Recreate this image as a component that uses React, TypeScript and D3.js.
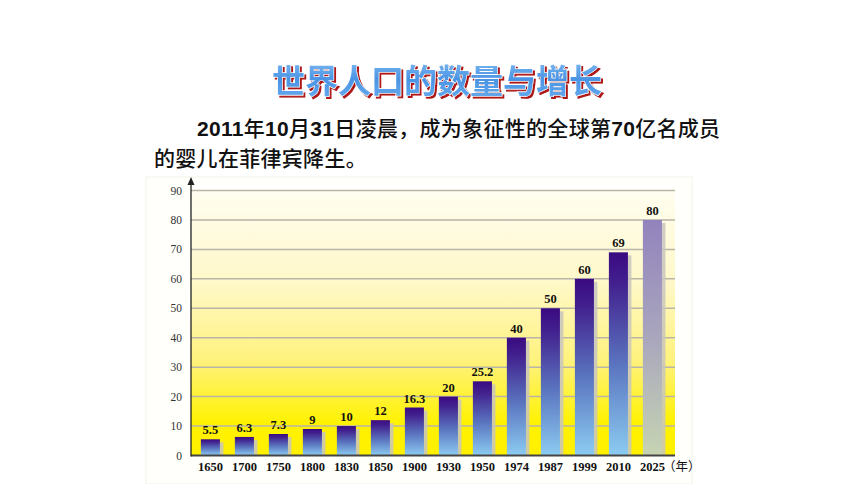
import React from "react";
import * as d3 from "d3";

const years = ["1650", "1700", "1750", "1800", "1830", "1850", "1900", "1930", "1950", "1974", "1987", "1999", "2010", "2025"];
const populations = [5.5, 6.3, 7.3, 9, 10, 12, 16.3, 20, 25.2, 40, 50, 60, 69, 80];
const valueLabels = ["5.5", "6.3", "7.3", "9", "10", "12", "16.3", "20", "25.2", "40", "50", "60", "69", "80"];
const yTicks = [0, 10, 20, 30, 40, 50, 60, 70, 80, 90];
const titleText = "世界人口的数量与增长";
const line1Parts: { t: string; num: boolean }[] = [
  { t: "2011", num: true },
  { t: "年", num: false },
  { t: "10", num: true },
  { t: "月", num: false },
  { t: "31", num: true },
  { t: "日凌晨，成为象征性的全球第", num: false },
  { t: "70", num: true },
  { t: "亿名成员", num: false },
];
const line2 = "的婴儿在菲律宾降生。";
const yearUnit = "（年）";

const W = 860;
const H = 484;
const plotLeft = 191;
const plotRight = 675;
const plotTop = 190.5;
const plotBottom = 455.5;

export default function App() {
  const y = d3.scaleLinear().domain([0, 90]).range([plotBottom, plotTop]);
  const x = d3
    .scaleBand<string>()
    .domain(years)
    .range([193.4, 669.4])
    .paddingInner(0.44)
    .paddingOuter(0.22);
  const bw = x.bandwidth();
  const serif = "'Liberation Serif', 'Times New Roman', 'Noto Sans CJK SC', serif";
  const sans = "'Liberation Sans', Arial, 'Noto Sans CJK SC', sans-serif";
  const cjk = "'Noto Sans CJK SC', sans-serif";

  return (
    <svg width={W} height={H} style={{ position: "absolute", left: 0, top: 0, background: "#fff" }}>
      <defs>
        <linearGradient id="bgGrad" x1="0" y1="0" x2="0" y2="1">
          <stop offset="0" stopColor="#fffdf0" />
          <stop offset="0.35" stopColor="#fff8c8" />
          <stop offset="0.65" stopColor="#fff27a" />
          <stop offset="0.88" stopColor="#fff200" />
          <stop offset="1" stopColor="#fff000" />
        </linearGradient>
        <linearGradient id="barGrad" x1="0" y1="0" x2="0" y2="1">
          <stop offset="0" stopColor="#3a0a82" />
          <stop offset="0.15" stopColor="#42208e" />
          <stop offset="0.55" stopColor="#5a74bf" />
          <stop offset="1" stopColor="#8cccf2" />
        </linearGradient>
        <linearGradient id="futGrad" x1="0" y1="0" x2="0" y2="1">
          <stop offset="0" stopColor="#9383bd" />
          <stop offset="0.5" stopColor="#a9a6bd" />
          <stop offset="1" stopColor="#c6d4b2" />
        </linearGradient>
        <linearGradient id="titleGrad" x1="0" y1="0" x2="0" y2="1">
          <stop offset="0" stopColor="#8cc4f4" />
          <stop offset="0.5" stopColor="#4a94e4" />
          <stop offset="1" stopColor="#6aaef0" />
        </linearGradient>
        <filter id="titleShadow" x="-5%" y="-20%" width="110%" height="140%">
          <feOffset in="SourceAlpha" dx="1.8" dy="1.8" result="off" />
          <feFlood floodColor="#b01818" />
          <feComposite in2="off" operator="in" result="shadow" />
          <feMerge>
            <feMergeNode in="shadow" />
            <feMergeNode in="SourceGraphic" />
          </feMerge>
        </filter>
      </defs>

      {/* Title */}
      <text
        x={437}
        y={93}
        textAnchor="middle"
        fontFamily={cjk}
        fontWeight="bold"
        fontSize={33}
        fill="url(#titleGrad)"
        stroke="#ffffff"
        strokeWidth={1.2}
        paintOrder="stroke"
        filter="url(#titleShadow)"
      >
        {titleText}
      </text>

      {/* Paragraph */}
      <text x={197} y={136} fontSize={21} fill="#111" letterSpacing={0.3}>
        {line1Parts.map((p, i) => (
          <tspan key={i} fontFamily={p.num ? sans : cjk} fontWeight={p.num ? "bold" : "500"}>
            {p.t}
          </tspan>
        ))}
      </text>
      <text x={154} y={166} fontSize={21} fill="#111" fontFamily={cjk} fontWeight="500" letterSpacing={0.3}>
        {line2}
      </text>

      {/* Panel */}
      <rect x={146} y={177} width={546} height={307} fill="#fffffb" stroke="#f3f3ea" strokeWidth={1} />

      {/* Plot background */}
      <rect x={plotLeft} y={plotTop} width={plotRight - plotLeft} height={plotBottom - plotTop} fill="url(#bgGrad)" />

      {/* Gridlines */}
      {yTicks.slice(1).map((t) => (
        <line key={t} x1={plotLeft} x2={plotRight} y1={y(t)} y2={y(t)} stroke="#b9b5a8" strokeWidth={1.5} />
      ))}

      {/* Tick labels */}
      {yTicks.map((t) => (
        <text key={t} x={182} y={y(t) + 4} textAnchor="end" fontFamily={serif} fontSize={11.5} fill="#333">
          {t}
        </text>
      ))}

      {/* Bars */}
      {years.map((yr, i) => {
        const v = populations[i];
        const bx = x(yr) as number;
        const top = y(v);
        const isFuture = i === years.length - 1;
        return (
          <g key={yr}>
            <rect x={bx + 2} y={top + 3} width={bw + 1.5} height={plotBottom - top - 3} fill="#c8c4c0" opacity={0.85} />
            <rect x={bx} y={top} width={bw} height={plotBottom - top} fill={isFuture ? "url(#futGrad)" : "url(#barGrad)"} />
            <text
              x={bx + bw / 2}
              y={top - 5}
              textAnchor="middle"
              fontFamily={serif}
              fontWeight="bold"
              fontSize={12.5}
              fill="#111"
            >
              {valueLabels[i]}
            </text>
          </g>
        );
      })}

      {/* Axes */}
      <line x1={plotLeft} x2={plotRight} y1={plotBottom} y2={plotBottom} stroke="#444" strokeWidth={2} />
      <line x1={plotLeft} x2={plotLeft} y1={plotBottom + 1} y2={182} stroke="#222" strokeWidth={1.3} />
      <path d={`M${plotLeft},177 L${plotLeft - 3.5},185 L${plotLeft + 3.5},185 Z`} fill="#222" />

      {/* X labels */}
      {years.map((yr, i) => {
        const cx = (x(yr) as number) + bw / 2;
        const last = i === years.length - 1;
        return (
          <text
            key={yr}
            x={last ? cx - 12.5 : cx}
            y={471}
            textAnchor={last ? "start" : "middle"}
            fontFamily={serif}
            fontWeight="bold"
            fontSize={12.5}
            fill="#111"
          >
            {yr}
            {last ? <tspan fontFamily={cjk} fontWeight="normal" dx={-2}>{yearUnit}</tspan> : null}
          </text>
        );
      })}
    </svg>
  );
}
